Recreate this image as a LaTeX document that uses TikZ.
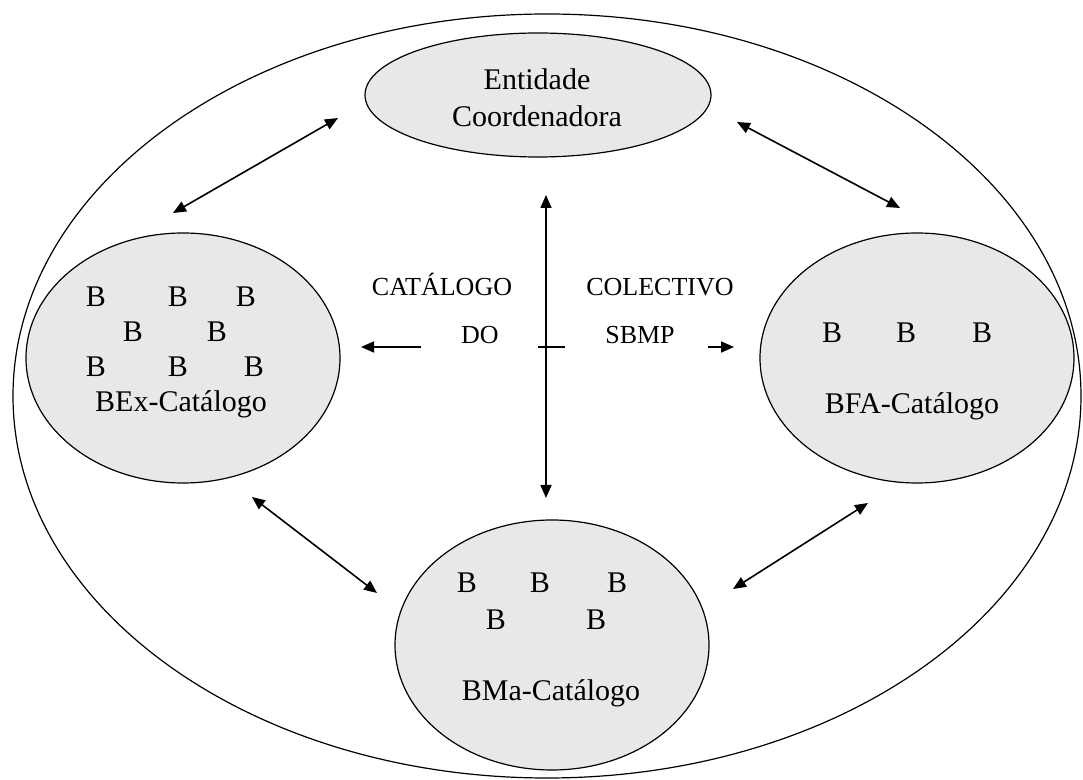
\documentclass[tikz,border=0pt]{standalone}
\usepackage{fontspec}
\setmainfont{Liberation Serif}
\usetikzlibrary{shapes.geometric,arrows.meta}
\definecolor{ellfill}{RGB}{232,232,232}
\begin{document}
\begin{tikzpicture}[x=0.5pt,y=-0.5pt,
  outerell/.style={draw,ellipse,line width=0.6pt,minimum width=534pt,minimum height=382pt,inner sep=0pt},
  libell/.style={draw,ellipse,fill=ellfill,line width=0.6pt,minimum width=157pt,minimum height=125pt,inner sep=0pt},
  topell/.style={draw,ellipse,fill=ellfill,line width=0.6pt,minimum width=173pt,minimum height=62pt,inner sep=0pt},
  txt/.style={font=\fontsize{15pt}{18pt}\selectfont,anchor=base,inner sep=0pt},
  lbl/.style={font=\fontsize{13pt}{15pt}\selectfont,anchor=base,inner sep=0pt},
  dbl/.style={line width=0.8pt,{Triangle[length=6.5pt,width=5.5pt]}-{Triangle[length=6.5pt,width=5.5pt]}},
  sgl/.style={line width=0.8pt,-{Triangle[length=6.5pt,width=5.5pt]}},
  plain/.style={line width=0.8pt}]
\useasboundingbox (0,0) rectangle (1083,780);
\fill[white] (0,0) rectangle (1083,780);
% outer ellipse
\node[outerell] (outer) at (547,396) {};
% ellipses
\node[topell] (top) at (538,95) {};
\node[libell] (bex) at (183,358) {};
\node[libell] (bfa) at (917,358) {};
\node[libell] (bma) at (552,645) {};
% top text
\node[txt] (t1) at (537,90) {Entidade};
\node[txt] (t2) at (537,127) {Coordenadora};
% BEx
\node[txt] (l11) at (96,307) {B};
\node[txt] (l12) at (178,307) {B};
\node[txt] (l13) at (246,307) {B};
\node[txt] (l21) at (133,342) {B};
\node[txt] (l22) at (217,342) {B};
\node[txt] (l31) at (96,377) {B};
\node[txt] (l32) at (178,377) {B};
\node[txt] (l33) at (254,377) {B};
\node[txt] (bexl) at (181,412) {BEx-Catálogo};
% BFA
\node[txt] (r11) at (832,343) {B};
\node[txt] (r12) at (906,343) {B};
\node[txt] (r13) at (982,343) {B};
\node[txt] (bfal) at (912,414) {BFA-Catálogo};
% BMa
\node[txt] (b11) at (467,593) {B};
\node[txt] (b12) at (540,593) {B};
\node[txt] (b13) at (617,593) {B};
\node[txt] (b21) at (496,630) {B};
\node[txt] (b22) at (596,630) {B};
\node[txt] (bmal) at (551,701) {BMa-Catálogo};
% middle labels
\node[lbl] (cat) at (442,296) {CATÁLOGO};
\node[lbl] (do) at (480,344) {DO};
\node[lbl] (col) at (660,296) {COLECTIVO};
\node[lbl] (sbmp) at (640,344) {SBMP};
% arrow end coordinates
\coordinate (tlA) at (173,213);
\coordinate (tlB) at (338,118);
\coordinate (trA) at (737,122);
\coordinate (trB) at (900,208);
\coordinate (blA) at (252,497);
\coordinate (blB) at (377,593);
\coordinate (brA) at (868,503);
\coordinate (brB) at (733,589);
\coordinate (vA) at (546,195);
\coordinate (vB) at (546,498);
\coordinate (hlA) at (421,347);
\coordinate (hlB) at (361,347);
\coordinate (hrA) at (708,347);
\coordinate (hrB) at (734,347);
\coordinate (tkA) at (538,347);
\coordinate (tkB) at (565,347);
% arrows
\draw[dbl] (tlA) -- (tlB);
\draw[dbl] (trA) -- (trB);
\draw[dbl] (blA) -- (blB);
\draw[dbl] (brA) -- (brB);
\draw[dbl] (vA) -- (vB);
\draw[sgl] (hlA) -- (hlB);
\draw[sgl] (hrA) -- (hrB);
\draw[plain] (tkA) -- (tkB);
\end{tikzpicture}
\end{document}
